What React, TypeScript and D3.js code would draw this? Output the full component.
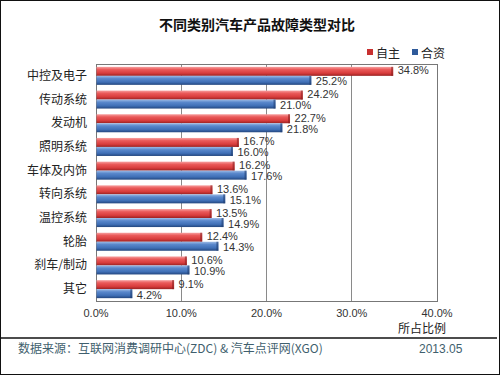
import { useEffect, useRef } from "react";
import * as d3 from "d3";

const categories = ["中控及电子", "传动系统", "发动机", "照明系统", "车体及内饰", "转向系统", "温控系统", "轮胎", "刹车/制动", "其它"];
const seriesNames = ["自主", "合资"];
const domesticValues = [34.8, 24.2, 22.7, 16.7, 16.2, 13.6, 13.5, 12.4, 10.6, 9.1];
const jointValues = [25.2, 21.0, 21.8, 16.0, 17.6, 15.1, 14.9, 14.3, 10.9, 4.2];
const xTicks = [0, 10, 20, 30, 40];

const W = 500;
const H = 375;
const CJK = "'Noto Sans CJK SC', sans-serif";
const LATIN = "'Liberation Sans', Arial, sans-serif";

export default function App() {
  const ref = useRef<SVGSVGElement | null>(null);

  useEffect(() => {
    const svgEl = ref.current;
    if (!svgEl) return;
    const svg = d3.select(svgEl);
    svg.selectAll("*").remove();

    const plot = { left: 96, right: 437, top: 64, bottom: 301 };

    const x = d3.scaleLinear().domain([0, 40]).range([plot.left, plot.right]);
    const y0 = d3.scaleBand<string>().domain(categories).range([plot.top, plot.bottom]).paddingInner(0.24).paddingOuter(0.12);
    const y1 = d3.scaleBand<string>().domain(seriesNames).range([0, y0.bandwidth()]);

    const defs = svg.append("defs");
    const grad = (id: string, stops: [number, string][]) => {
      const g = defs.append("linearGradient").attr("id", id).attr("x1", 0).attr("y1", 0).attr("x2", 0).attr("y2", 1);
      stops.forEach(([o, c]) => g.append("stop").attr("offset", o).attr("stop-color", c));
    };
    grad("gRed", [[0, "#f7a0a0"], [0.3, "#ea5a5a"], [0.7, "#d83c3c"], [1, "#9a2222"]]);
    grad("gBlue", [[0, "#9dbbe6"], [0.3, "#5a88cc"], [0.7, "#3f6fb6"], [1, "#23467e"]]);

    svg.append("rect").attr("width", W).attr("height", H).attr("fill", "#fff");

    // title
    svg.append("text").attr("x", 257).attr("y", 30).attr("text-anchor", "middle")
      .style("font", `bold 14px ${CJK}`).attr("fill", "#111").text("不同类别汽车产品故障类型对比");

    // legend
    const legend = svg.append("g").style("font", `12px ${CJK}`);
    seriesNames.forEach((s, i) => {
      const lx = i === 0 ? 367 : 412;
      legend.append("rect").attr("x", lx).attr("y", 49).attr("width", 6).attr("height", 6)
        .attr("fill", i === 0 ? "#c83030" : "#2f5a9a");
      legend.append("text").attr("x", lx + 9).attr("y", 57.5).attr("fill", "#222").text(s);
    });

    // grid
    svg.append("g").selectAll("line").data(xTicks.slice(1, -1)).join("line")
      .attr("x1", (d) => x(d)).attr("x2", (d) => x(d)).attr("y1", plot.top).attr("y2", plot.bottom)
      .attr("stroke", "#8a8a8a").attr("stroke-width", 1).attr("shape-rendering", "crispEdges");
    svg.append("rect").attr("x", plot.left).attr("y", plot.top)
      .attr("width", plot.right - plot.left).attr("height", plot.bottom - plot.top)
      .attr("fill", "none").attr("stroke", "#777").attr("stroke-width", 1).attr("shape-rendering", "crispEdges");

    // bars
    const rows = categories.map((c, i) => ({ c, vals: [domesticValues[i], jointValues[i]] }));
    const g = svg.append("g");
    rows.forEach((r) => {
      r.vals.forEach((v, si) => {
        const by = (y0(r.c) ?? 0) + (y1(seriesNames[si]) ?? 0);
        const bh = y1.bandwidth();
        g.append("rect").attr("x", x(0) + 0.5).attr("y", by).attr("width", x(v) - x(0))
          .attr("height", bh).attr("fill", si === 0 ? "url(#gRed)" : "url(#gBlue)");
        g.append("rect").attr("x", x(v) - 1.5).attr("y", by).attr("width", 2).attr("height", bh)
          .attr("fill", si === 0 ? "#8a1e1e" : "#1f3d70").attr("opacity", 0.6);
        g.append("text").attr("x", x(v) + 5).attr("y", by + bh / 2 + (si === 0 ? 3 : 5))
          .style("font", `11px ${LATIN}`).attr("fill", "#333").text(v.toFixed(1) + "%");
      });
    });

    // category labels
    svg.append("g").selectAll("text").data(categories).join("text")
      .attr("x", 87).attr("y", (d) => (y0(d) ?? 0) + y0.bandwidth() / 2 + 4)
      .attr("text-anchor", "end").style("font", `12px ${CJK}`).attr("fill", "#222").text((d) => d);

    // x tick labels
    svg.append("g").selectAll("text").data(xTicks).join("text")
      .attr("x", (d) => x(d)).attr("y", 317).attr("text-anchor", "middle")
      .style("font", `11px ${LATIN}`).attr("fill", "#333").text((d) => d3.format(".1f")(d) + "%");
    svg.append("text").attr("x", 422).attr("y", 333).attr("text-anchor", "middle")
      .style("font", `12px ${CJK}`).attr("fill", "#222").text("所占比例");

    // footer
    svg.append("line").attr("x1", 1).attr("x2", W - 3).attr("y1", 338).attr("y2", 338)
      .attr("stroke", "#111").attr("stroke-width", 1.5);
    svg.append("text").attr("x", 18).attr("y", 353).style("font", `12px ${CJK}`).attr("fill", "#3f5f6e")
      .text("数据来源：互联网消费调研中心(ZDC) & 汽车点评网(XGO)");
    svg.append("text").attr("x", 419).attr("y", 353).style("font", `12px ${LATIN}`).attr("fill", "#3f5f6e")
      .text("2013.05");

    // outer border
    svg.append("rect").attr("x", 0.5).attr("y", 0.5).attr("width", W - 1).attr("height", H - 1)
      .attr("fill", "none").attr("stroke", "#111").attr("stroke-width", 1);
  }, []);

  return <svg ref={ref} width={W} height={H} style={{ position: "absolute", left: 0, top: 0 }} />;
}
